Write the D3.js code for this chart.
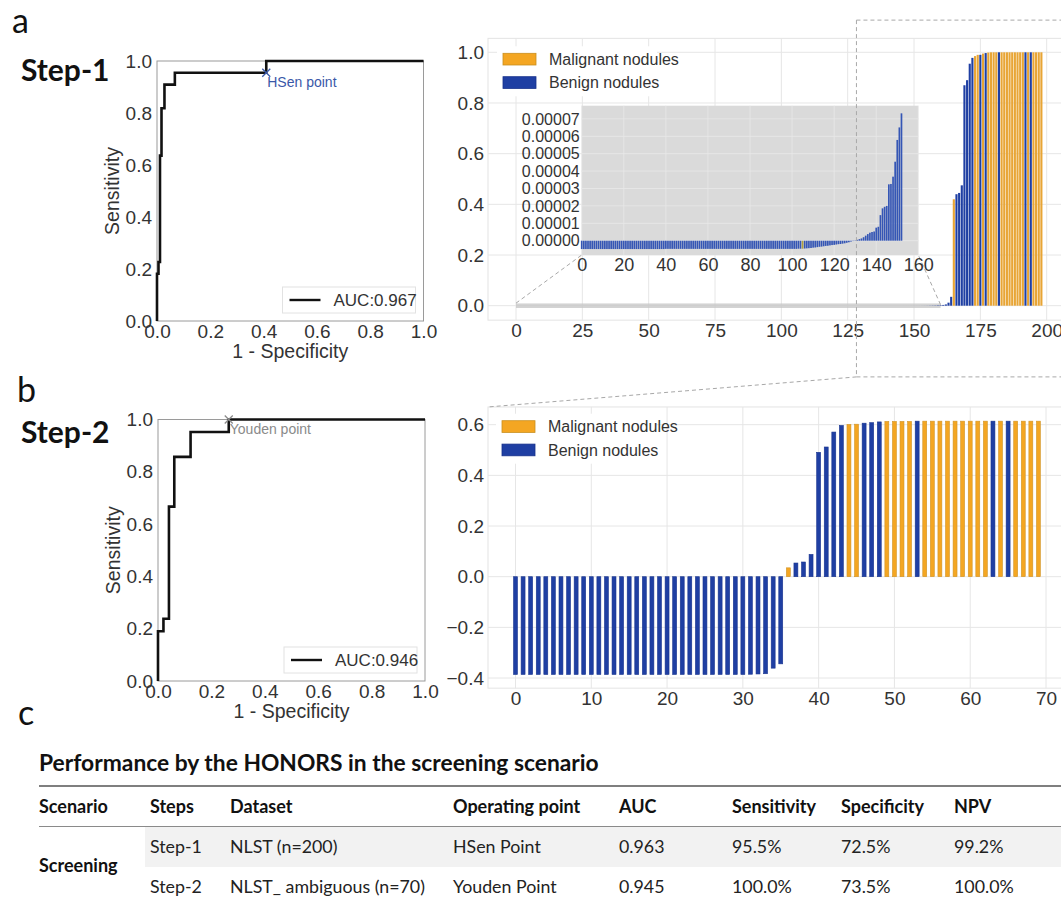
<!DOCTYPE html>
<html>
<head>
<meta charset="utf-8">
<script src="https://cdn.jsdelivr.net/npm/d3@7"></script>
<style>
body { margin: 0; background: #fff; }
svg text { font-family: "Liberation Sans", Arial, sans-serif; }
svg text.cal { font-family: Lato, "Open Sans", sans-serif; }
</style>
</head>
<body>
<script>
/* ----------------------------------------------------------------------------
HONORS screening figure: two ROC curves, two sorted-score bar charts with an
inset, and the performance table underneath.
-----------------------------------------------------------------------------*/

// ROC curves (corner points, drawn as step curves)
var roc1Fpr = [0, 0, 0.0056, 0.0112, 0.0169, 0.028, 0.067, 0.41, 1.0];
var roc1Tpr = [0, 0.182, 0.227, 0.636, 0.818, 0.909, 0.955, 1.0, 1.0];
var roc2Fpr = [0, 0, 0.0204, 0.041, 0.061, 0.122, 0.265, 1.0];
var roc2Tpr = [0, 0.190, 0.238, 0.667, 0.857, 0.952, 1.0, 1.0];
var hsenPoint = [0.41, 0.955];
var youdenPoint = [0.265, 1.0];
var rocLegend = ["AUC:0.967", "AUC:0.946"];
var rocTicks = [0, 0.2, 0.4, 0.6, 0.8, 1.0];

// Step-1 sorted scores. First 153 cases shown in the inset (units of 1e-6)
var insetValues = [
    -4.8, -4.8, -4.8, -4.8, -4.8, -4.8, -4.8, -4.8, -4.8, -4.8,
    -4.8, -4.8, -4.8, -4.8, -4.8, -4.8, -4.8, -4.8, -4.8, -4.8,
    -4.8, -4.8, -4.8, -4.8, -4.8, -4.8, -4.8, -4.8, -4.8, -4.8,
    -4.8, -4.8, -4.8, -4.8, -4.8, -4.8, -4.8, -4.8, -4.8, -4.8,
    -4.7, -4.7, -4.7, -4.7, -4.7, -4.7, -4.7, -4.7, -4.7, -4.7,
    -4.7, -4.7, -4.7, -4.7, -4.7, -4.7, -4.7, -4.7, -4.7, -4.7,
    -4.7, -4.7, -4.7, -4.7, -4.7, -4.7, -4.7, -4.7, -4.7, -4.7,
    -4.7, -4.7, -4.7, -4.7, -4.7, -4.7, -4.7, -4.7, -4.7, -4.7,
    -4.7, -4.7, -4.7, -4.7, -4.7, -4.7, -4.7, -4.7, -4.7, -4.7,
    -4.7, -4.7, -4.7, -4.7, -4.7, -4.7, -4.7, -4.7, -4.7, -4.7,
    -4.7, -4.7, -4.7, -4.6, -4.6,
    -4.6, -4.5, -4.4, -4.3, -4.2, -4.0, -3.9, -3.7, -3.5, -3.4,
    -3.2, -3.0, -2.9, -2.7, -2.5, -2.4, -2.2, -2.0, -1.9, -1.7,
    -1.5, -1.2, -0.9, -0.5, -0.2,
    0.2, 0.5, 0.9, 1.3, 2.0, 2.9, 3.8, 4.6, 5.0, 5.3,
    7.5, 8.0, 14.7, 18.6, 19.5, 20.0, 32.4, 32.6, 36.8, 45.4,
    57.9, 65.1, 73.2
];
// Remaining Step-1 cases (index 153 onward)
var step1Tail = [
    0.0001, 0.0002, 0.0003, 0.0005, 0.0008, 0.001, 0.0015, 0.002, 0.003, 0.005,
    0.012, 0.035, 0.42, 0.44, 0.445, 0.475, 0.87, 0.89, 0.955, 0.978,
    0.985, 0.99, 0.99, 0.995, 0.997, 0.999, 1.0, 1.0, 1.0, 1.0,
    1.0, 1.0, 1.0, 1.0, 1.0, 1.0, 1.0, 1.0, 1.0, 1.0,
    1.0, 1.0, 1.0, 1.0, 1.0, 1.0
];
var step1Malignant = [105, 165, 173, 174, 176, 178, 179, 180, 181, 183, 184,
    185, 186, 187, 188, 189, 190, 191, 193, 195, 196, 197, 198];
var step1XTicks = [0, 25, 50, 75, 100, 125, 150, 175, 200];
var step1YTicks = [0, 0.2, 0.4, 0.6, 0.8, 1.0];
var insetXTicks = [0, 20, 40, 60, 80, 100, 120, 140, 160];
var insetYTicks = [0, 1e-5, 2e-5, 3e-5, 4e-5, 5e-5, 6e-5, 7e-5];

// Step-2 sorted scores (70 ambiguous cases)
var step2Values = [
    -0.386, -0.386, -0.386, -0.386, -0.386, -0.386, -0.386, -0.386, -0.386, -0.386,
    -0.386, -0.386, -0.386, -0.386, -0.386, -0.386, -0.386, -0.386, -0.386, -0.386,
    -0.386, -0.386, -0.386, -0.386, -0.386, -0.386, -0.386, -0.386, -0.386, -0.386,
    -0.386, -0.385, -0.384, -0.383, -0.361, -0.344,
    0.035, 0.054, 0.058, 0.088,
    0.491, 0.512, 0.571, 0.597, 0.601, 0.602, 0.606, 0.608, 0.611, 0.613,
    0.613, 0.613, 0.613, 0.614, 0.614, 0.614, 0.614, 0.614, 0.614, 0.614,
    0.614, 0.614, 0.614, 0.614, 0.614, 0.614, 0.614, 0.614, 0.614, 0.614
];
var step2Malignant = [36, 44, 45, 49, 50, 51, 52, 54, 55, 56, 57, 58, 59, 60,
    61, 62, 64, 66, 67, 68, 69];
var step2XTicks = [0, 10, 20, 30, 40, 50, 60, 70];
var step2YTicks = [-0.4, -0.2, 0, 0.2, 0.4, 0.6];
var legendLabels = ["Malignant nodules", "Benign nodules"];

// Table
var tableTitle = "Performance by the HONORS in the screening scenario";
var tableHeader = ["Scenario", "Steps", "Dataset", "Operating point", "AUC",
    "Sensitivity", "Specificity", "NPV"];
var tableRows = [
    ["Step-1", "NLST (n=200)", "HSen Point", "0.963", "95.5%", "72.5%", "99.2%"],
    ["Step-2", "NLST_ ambiguous (n=70)", "Youden Point", "0.945", "100.0%",
        "73.5%", "100.0%"]
];
var scenarioLabel = "Screening";

var ORANGE = "#f4a622", BLUE = "#1f3fa3", TXT = "#333";

var svg = d3.select("body").append("svg")
    .attr("width", 1061)
    .attr("height", 902);

function styleAxis(sel, size) {
    sel.attr("font-family", "'Liberation Sans', Arial, sans-serif")
        .attr("font-size", size)
        .style("color", TXT);
    sel.select(".domain").remove();
}

function dashed(g, x1, y1, x2, y2) {
    g.append("line")
        .attr("x1", x1).attr("y1", y1).attr("x2", x2).attr("y2", y2)
        .attr("stroke", "#a8a8a8")
        .attr("stroke-width", 1)
        .attr("stroke-dasharray", "4,3");
}

/* ---------------------------------------------------------------- ROC ---*/
function drawRoc(cfg) {
    var x = d3.scaleLinear().domain([0, 1]).range([cfg.left, cfg.right]);
    var y = d3.scaleLinear().domain([0, 1]).range([cfg.bottom, cfg.top]);
    var g = svg.append("g");

    g.append("rect")
        .attr("x", x(0)).attr("y", y(1))
        .attr("width", x(1) - x(0)).attr("height", y(0) - y(1))
        .attr("fill", "none")
        .attr("stroke", "#9a9a9a");

    g.append("g")
        .attr("transform", "translate(0," + y(0) + ")")
        .call(d3.axisBottom(x).tickValues(rocTicks)
            .tickFormat(d3.format(".1f")).tickSize(0).tickPadding(4))
        .call(styleAxis, 19);

    g.append("g")
        .attr("transform", "translate(" + x(0) + ",0)")
        .call(d3.axisLeft(y).tickValues(rocTicks)
            .tickFormat(d3.format(".1f")).tickSize(0).tickPadding(5))
        .call(styleAxis, 19);

    g.append("text")
        .attr("transform", "translate(" + (x(0) - 38) + "," + y(0.5) +
            ") rotate(-90)")
        .attr("text-anchor", "middle")
        .attr("font-size", 19.5).attr("fill", TXT)
        .text("Sensitivity");
    g.append("text")
        .attr("x", x(0.5)).attr("y", y(0) + 37)
        .attr("text-anchor", "middle")
        .attr("font-size", 19.5).attr("fill", TXT)
        .text("1 - Specificity");

    var pts = cfg.fpr.map(function(d, i) { return [d, cfg.tpr[i]]; });
    g.append("path")
        .datum(pts)
        .attr("fill", "none")
        .attr("stroke", "#111")
        .attr("stroke-width", 2.6)
        .attr("d", d3.line()
            .x(function(d) { return x(d[0]); })
            .y(function(d) { return y(d[1]); })
            .curve(d3.curveStepAfter));

    // operating point marker and its label
    var px = x(cfg.point[0]), py = y(cfg.point[1]);
    g.append("path")
        .attr("d", "M" + (px - 4) + "," + (py - 4) + "L" + (px + 4) + "," +
            (py + 4) + "M" + (px - 4) + "," + (py + 4) + "L" + (px + 4) + "," +
            (py - 4))
        .attr("stroke", cfg.pointColor).attr("stroke-width", 1.3);
    g.append("text")
        .attr("x", px + 1).attr("y", py + 14)
        .attr("font-size", 14).attr("fill", cfg.pointColor)
        .text(cfg.pointLabel);

    // legend, lower right
    var lw = 133, lh = 26;
    var lx = x(1) - 8 - lw, ly = y(0) - 8 - lh;
    g.append("rect")
        .attr("x", lx).attr("y", ly).attr("width", lw).attr("height", lh)
        .attr("fill", "#fff").attr("stroke", "#e2e2e2");
    g.append("line")
        .attr("x1", lx + 7).attr("x2", lx + 38)
        .attr("y1", ly + lh / 2).attr("y2", ly + lh / 2)
        .attr("stroke", "#111").attr("stroke-width", 2.4);
    g.append("text")
        .attr("x", lx + 51).attr("y", ly + lh / 2)
        .attr("dy", "0.35em")
        .attr("font-size", 17).attr("fill", TXT)
        .text(cfg.legend);
}

drawRoc({left: 157, right: 423.5, top: 61, bottom: 321,
    fpr: roc1Fpr, tpr: roc1Tpr, point: hsenPoint, pointLabel: "HSen point",
    pointColor: "#3a58a8", legend: rocLegend[0]});
drawRoc({left: 158, right: 425, top: 419.5, bottom: 681,
    fpr: roc2Fpr, tpr: roc2Tpr, point: youdenPoint,
    pointLabel: "Youden point", pointColor: "#8a8a8a", legend: rocLegend[1]});

/* ------------------------------------------------- shared bar helpers ---*/
function drawFrame(g, x0, y0, x1, y1, xs, ys, xTicks, yTicks) {
    g.append("rect")
        .attr("x", x0).attr("y", y0)
        .attr("width", x1 - x0).attr("height", y1 - y0)
        .attr("fill", "#fff").attr("stroke", "#e4e4e4");
    g.selectAll(null).data(xTicks).enter().append("line")
        .attr("x1", xs).attr("x2", xs)
        .attr("y1", y0).attr("y2", y1)
        .attr("stroke", "#e6e6e6");
    g.selectAll(null).data(yTicks).enter().append("line")
        .attr("x1", x0).attr("x2", x1)
        .attr("y1", ys).attr("y2", ys)
        .attr("stroke", "#e6e6e6");
}

function drawLegend(g, x0, y0) {
    g.append("rect")
        .attr("x", x0 - 6).attr("y", y0 - 7)
        .attr("width", 160).attr("height", 50)
        .attr("fill", "#fff");
    legendLabels.forEach(function(lab, i) {
        g.append("rect")
            .attr("x", x0).attr("y", y0 + i * 23.4)
            .attr("width", 33).attr("height", 11.7)
            .attr("fill", i === 0 ? ORANGE : BLUE)
            .attr("stroke", i === 0 ? "#c98f1e" : "#16308a")
            .attr("stroke-width", 0.8);
        g.append("text")
            .attr("x", x0 + 46).attr("y", y0 + i * 23.4 + 6)
            .attr("dy", "0.35em")
            .attr("font-size", 16).attr("fill", TXT)
            .text(lab);
    });
}

/* ------------------------------------------------ Step-1 bar chart ---*/
var step1Values = insetValues.map(function(v) { return v * 1e-6; })
    .concat(step1Tail);

var xTop = d3.scaleLinear().domain([0, 200]).range([516, 1046.7]);
var yTop = d3.scaleLinear().domain([0, 1]).range([305.7, 52.3]);
var topG = svg.append("g");
var topL = 488, topT = yTop(1.055), topB = yTop(-0.057);

drawFrame(topG, topL, topT, 1070, topB,
    function(d) { return xTop(d); }, function(d) { return yTop(d); },
    step1XTicks, step1YTicks);

topG.append("g")
    .attr("transform", "translate(0," + topB + ")")
    .call(d3.axisBottom(xTop).tickValues(step1XTicks).tickSize(0)
        .tickPadding(3))
    .call(styleAxis, 19);
topG.append("g")
    .attr("transform", "translate(" + topL + ",0)")
    .call(d3.axisLeft(yTop).tickValues(step1YTicks)
        .tickFormat(d3.format(".1f")).tickSize(0).tickPadding(4))
    .call(styleAxis, 19);

// region that is magnified in the inset
topG.append("rect")
    .attr("x", xTop(0)).attr("y", yTop(0.009))
    .attr("width", xTop(160) - xTop(0))
    .attr("height", yTop(-0.009) - yTop(0.009))
    .attr("fill", "#c4c4c4").attr("opacity", 0.75);

var bw1 = xTop(0.8) - xTop(0);
topG.selectAll(".bar1").data(step1Values).enter().append("rect")
    .attr("x", function(d, i) { return xTop(i) - bw1 / 2; })
    .attr("y", function(d) { return yTop(Math.max(d, 0)); })
    .attr("width", bw1)
    .attr("height", function(d) { return Math.abs(yTop(d) - yTop(0)); })
    .attr("fill", function(d, i) {
        return step1Malignant.indexOf(i) >= 0 ? "#e8a535" : BLUE;
    });

// inset
var xIn = d3.scaleLinear().domain([0, 160]).range([581.7, 918.3]);
var yIn = d3.scaleLinear().domain([0, 7e-5]).range([240.7, 118.9]);
var inT = 105.7, inB = 255;

dashed(topG, xTop(0), yTop(0.01), xIn(0), inB);
dashed(topG, xTop(160), yTop(0.004), xIn(160), inB);

topG.append("rect")
    .attr("x", xIn(0)).attr("y", inT)
    .attr("width", xIn(160) - xIn(0)).attr("height", inB - inT)
    .attr("fill", "#dadada");
topG.selectAll(null).data(insetXTicks).enter().append("line")
    .attr("x1", function(d) { return xIn(d); })
    .attr("x2", function(d) { return xIn(d); })
    .attr("y1", inT).attr("y2", inB)
    .attr("stroke", "#e8e8e8").attr("stroke-width", 0.8);
topG.selectAll(null).data(insetYTicks).enter().append("line")
    .attr("x1", xIn(0)).attr("x2", xIn(160))
    .attr("y1", function(d) { return yIn(d); })
    .attr("y2", function(d) { return yIn(d); })
    .attr("stroke", "#e8e8e8").attr("stroke-width", 0.8);

var bwIn = xIn(0.8) - xIn(0);
topG.selectAll(".barIn").data(insetValues).enter().append("rect")
    .attr("x", function(d, i) { return xIn(i) - bwIn / 2; })
    .attr("y", function(d) { return yIn(Math.max(d * 1e-6, 0)); })
    .attr("width", bwIn)
    .attr("height", function(d) {
        return Math.abs(yIn(d * 1e-6) - yIn(0));
    })
    .attr("fill", function(d, i) {
        return step1Malignant.indexOf(i) >= 0 ? "#b0a040" : "#3556b5";
    });

topG.append("g")
    .attr("transform", "translate(0," + inB + ")")
    .call(d3.axisBottom(xIn).tickValues(insetXTicks).tickSize(0)
        .tickPadding(3))
    .call(styleAxis, 18);
topG.append("g")
    .attr("transform", "translate(" + xIn(0) + ",0)")
    .call(d3.axisLeft(yIn).tickValues(insetYTicks)
        .tickFormat(d3.format(".5f")).tickSize(0).tickPadding(2))
    .call(styleAxis, 16);

drawLegend(topG, 503, 53.3);

/* ------------------------------------------------ Step-2 bar chart ---*/
var xBot = d3.scaleLinear().domain([0, 70]).range([515.5, 1046]);
var yBot = d3.scaleLinear().domain([0, 0.6]).range([576.7, 424.7]);
var botG = svg.append("g");
var botT = yBot(0.67), botB = yBot(-0.44);

drawFrame(botG, topL, botT, 1070, botB,
    function(d) { return xBot(d); }, function(d) { return yBot(d); },
    step2XTicks, step2YTicks);

botG.append("g")
    .attr("transform", "translate(0," + botB + ")")
    .call(d3.axisBottom(xBot).tickValues(step2XTicks).tickSize(0)
        .tickPadding(3))
    .call(styleAxis, 19);
botG.append("g")
    .attr("transform", "translate(" + topL + ",0)")
    .call(d3.axisLeft(yBot).tickValues(step2YTicks)
        .tickFormat(d3.format(".1f")).tickSize(0).tickPadding(4))
    .call(styleAxis, 19);

var bw2 = xBot(0.52) - xBot(0);
botG.selectAll(".bar2").data(step2Values).enter().append("rect")
    .attr("x", function(d, i) { return xBot(i) - bw2 / 2; })
    .attr("y", function(d) { return yBot(Math.max(d, 0)); })
    .attr("width", bw2)
    .attr("height", function(d) { return Math.abs(yBot(d) - yBot(0)); })
    .attr("fill", function(d, i) {
        return step2Malignant.indexOf(i) >= 0 ? ORANGE : BLUE;
    })
    .attr("stroke", function(d, i) {
        return step2Malignant.indexOf(i) >= 0 ? "#d0952a" : "#1a358f";
    })
    .attr("stroke-width", 0.6);

drawLegend(botG, 502, 420.7);

// zoom box linking the tail of Step-1 to the Step-2 chart
var zx = xTop(128.3), zTop = yTop(1.127), zBot = yTop(-0.281);
dashed(svg, zx, zTop, 1061, zTop);
dashed(svg, zx, zTop, zx, zBot);
dashed(svg, zx, zBot, 1061, zBot);
dashed(svg, zx, zBot, topL, botT);

/* ------------------------------------------------ panel labels ---*/
[["a", 12, 33], ["b", 17, 402], ["c", 18, 725]].forEach(function(p) {
    svg.append("text").attr("class", "cal")
        .attr("x", p[1]).attr("y", p[2])
        .attr("font-size", 34).attr("fill", "#111")
        .text(p[0]);
});
[["Step-1", 81], ["Step-2", 443]].forEach(function(p) {
    svg.append("text").attr("class", "cal")
        .attr("x", 21).attr("y", p[1])
        .attr("font-size", 30).attr("font-weight", "bold")
        .attr("fill", "#111")
        .text(p[0]);
});

/* ------------------------------------------------ table ---*/
var colX = [39, 150, 230, 453, 619, 732, 841, 954];
var tab = svg.append("g");
tab.append("text").attr("class", "cal")
    .attr("x", 39).attr("y", 771)
    .attr("font-size", 22.8).attr("font-weight", "bold").attr("fill", "#111")
    .text(tableTitle);
tab.append("line")
    .attr("x1", 39).attr("x2", 1061).attr("y1", 786).attr("y2", 786)
    .attr("stroke", "#555").attr("stroke-width", 1.5);
tab.append("line")
    .attr("x1", 39).attr("x2", 1061).attr("y1", 826.5).attr("y2", 826.5)
    .attr("stroke", "#8a8a8a").attr("stroke-width", 1);
tab.append("rect")
    .attr("x", 145).attr("y", 827).attr("width", 916).attr("height", 40)
    .attr("fill", "#f2f2f2");
tableHeader.forEach(function(h, i) {
    tab.append("text").attr("class", "cal")
        .attr("x", colX[i]).attr("y", 813)
        .attr("font-size", 18).attr("font-weight", "bold").attr("fill", "#111")
        .text(h);
});
tableRows.forEach(function(row, r) {
    row.forEach(function(cell, i) {
        tab.append("text").attr("class", "cal")
            .attr("x", colX[i + 1]).attr("y", 853 + r * 40)
            .attr("font-size", 17.8).attr("fill", "#222")
            .text(cell);
    });
});
tab.append("text").attr("class", "cal")
    .attr("x", 39).attr("y", 872)
    .attr("font-size", 18).attr("font-weight", "bold").attr("fill", "#111")
    .text(scenarioLabel);
</script>
</body>
</html>
